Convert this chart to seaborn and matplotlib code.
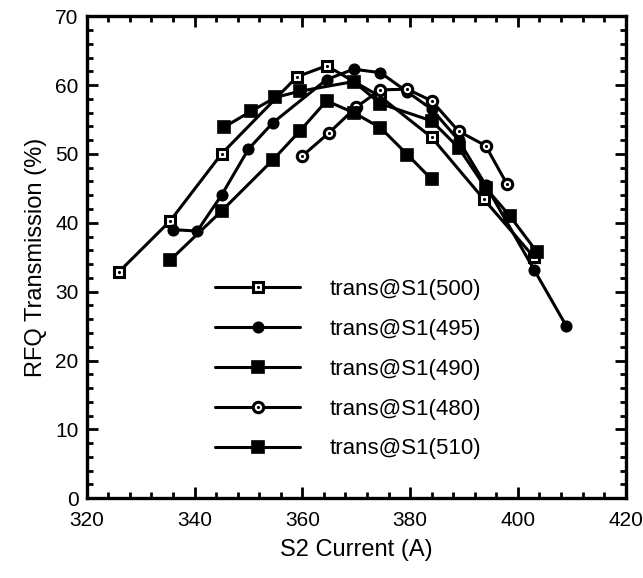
import matplotlib
matplotlib.use("Agg")
import matplotlib.pyplot as plt
import seaborn as sns
from matplotlib.ticker import MultipleLocator
from matplotlib.legend_handler import HandlerTuple
from matplotlib.lines import Line2D

# data
x500 = [326, 335.5, 345, 359, 364.5, 374.5, 384, 393.7, 403]
y500 = [32.9, 40.3, 50.0, 61.2, 62.8, 58.3, 52.4, 43.4, 35.0]

x495 = [336, 340.5, 345, 350, 354.5, 364.5, 369.5, 374.5, 379.5, 384, 389, 394, 403, 409]
y495 = [39.0, 38.8, 44.0, 50.7, 54.5, 60.8, 62.3, 61.8, 59.0, 56.5, 52.0, 45.5, 33.2, 25.0]

x490 = [345.5, 350.5, 355, 359.5, 369.5, 374.5, 384, 389, 394, 398.5, 403.5]
y490 = [53.9, 56.2, 58.2, 59.1, 60.5, 57.3, 54.8, 50.9, 45.1, 41.0, 35.8]

x480 = [360, 365, 370, 374.5, 379.5, 384, 389, 394, 398]
y480 = [49.7, 53.1, 56.8, 59.3, 59.4, 57.7, 53.3, 51.2, 45.6]

x510 = [335.5, 345, 354.5, 359.5, 364.5, 369.5, 374.5, 379.5, 384]
y510 = [34.6, 41.7, 49.1, 53.3, 57.7, 56.0, 53.8, 49.9, 46.3]

labels = ["trans@S1(500)", "trans@S1(495)", "trans@S1(490)",
          "trans@S1(480)", "trans@S1(510)"]

sns.set_style("ticks")
plt.rcParams["font.family"] = ["Liberation Sans", "DejaVu Sans"]
plt.rcParams.update({"text.color": "black", "axes.labelcolor": "black",
                     "xtick.color": "black", "ytick.color": "black",
                     "axes.edgecolor": "black"})

fig = plt.figure(figsize=(6.43, 5.78), dpi=100)
ax = fig.add_axes([0.135, 0.138, 0.838, 0.834])

lw = 2.2
# (x, y, marker, size, edge width, face, center dot)
styles = [
    (x500, y500, "s", 7.5, 2.2, "white", True),
    (x495, y495, "o", 7.5, 1.2, "black", False),
    (x490, y490, "s", 8.5, 1.2, "black", False),
    (x480, y480, "o", 7.5, 2.2, "white", True),
    (x510, y510, "s", 8.5, 1.2, "black", False),
]

handles = []
for (xs, ys, m, ms, mew, fc, dot) in styles:
    sns.lineplot(x=xs, y=ys, ax=ax, color="black", linewidth=lw, sort=False,
                 marker=m, markersize=ms, markerfacecolor=fc,
                 markeredgecolor="black", markeredgewidth=mew, zorder=3)
    h = Line2D([], [], color="black", linewidth=lw, marker=m, markersize=ms,
               markerfacecolor=fc, markeredgecolor="black", markeredgewidth=mew)
    if dot:
        ax.plot(xs, ys, linestyle="none", marker=".", markersize=2.5,
                color="black", zorder=4)
        d = Line2D([], [], linestyle="none", marker=".", markersize=2.5, color="black")
        handles.append((h, d))
    else:
        handles.append(h)

ax.set_xlim(320, 420)
ax.set_ylim(0, 70)
ax.xaxis.set_major_locator(MultipleLocator(20))
ax.xaxis.set_minor_locator(MultipleLocator(4))
ax.yaxis.set_major_locator(MultipleLocator(10))
ax.yaxis.set_minor_locator(MultipleLocator(2))
ax.tick_params(which="both", direction="in", top=True, right=True,
               width=2, labelsize=15)
ax.tick_params(axis="x", which="major", pad=9)
ax.tick_params(axis="y", which="major", pad=6)
ax.tick_params(which="major", length=8)
ax.tick_params(which="minor", length=4)
for s in ax.spines.values():
    s.set_linewidth(2.4)

ax.set_xlabel("S2 Current (A)", fontsize=17, labelpad=7)
ax.set_ylabel("RFQ Transmission (%)", fontsize=17, labelpad=6)

ax.legend(handles, labels, handler_map={tuple: HandlerTuple(ndivide=1, pad=0)},
          loc="upper left", bbox_to_anchor=(0.217, 0.478), frameon=False,
          fontsize=16, handlelength=3.85, handletextpad=1.3, labelspacing=0.85,
          borderpad=0)

fig.savefig("out.png", dpi=100)
